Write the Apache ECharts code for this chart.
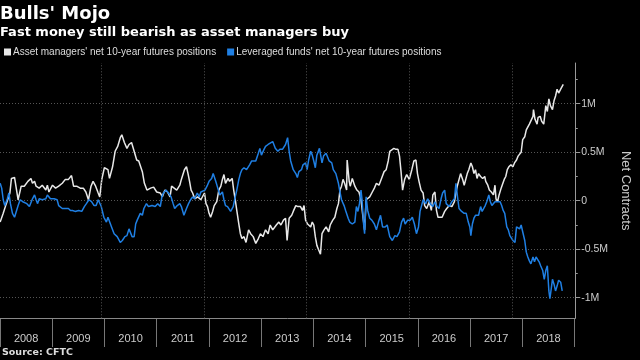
<!DOCTYPE html>
<html><head><meta charset="utf-8">
<script src="https://cdn.jsdelivr.net/npm/echarts@6/dist/echarts.min.js"></script>
<style>html,body{margin:0;padding:0;background:#000}#c{width:640px;height:360px}</style>
</head><body><div id="c"></div>
<script>
const years = ['2008','2009','2010','2011','2012','2013','2014','2015','2016','2017','2018'];
const yTicks = [-1, -0.5, 0, 0.5, 1];
const yMinorTicks = [-1, -0.75, -0.5, -0.25, 0, 0.25, 0.5, 0.75, 1, 1.25];
const gridYears = [2010, 2012, 2014, 2016, 2018];
const seriesNames = ["Asset managers' net 10-year futures positions", "Leveraged funds' net 10-year futures positions"];

// Asset managers (decimal year, million contracts)
const assetT = [2008.03,2008.09,2008.15,2008.22,2008.25,2008.28,2008.31,2008.38,2008.41,2008.44,2008.50,2008.57,2008.63,2008.66,2008.70,2008.73,2008.79,2008.82,2008.85,2008.92,2008.95,2008.98,
2009.05,2009.11,2009.17,2009.24,2009.30,2009.36,2009.42,2009.46,2009.52,2009.59,2009.65,2009.70,2009.75,2009.80,2009.84,2009.89,2009.94,2009.97,
2010.01,2010.06,2010.13,2010.16,2010.22,2010.27,2010.32,2010.37,2010.40,2010.45,2010.50,2010.54,2010.59,2010.64,2010.69,2010.73,2010.76,2010.80,2010.84,2010.89,2010.96,
2011.02,2011.08,2011.15,2011.19,2011.24,2011.29,2011.34,2011.37,2011.40,2011.47,2011.53,2011.56,2011.59,2011.62,2011.66,2011.69,2011.72,2011.75,2011.78,2011.82,2011.85,2011.88,2011.94,2011.97,
2012.01,2012.04,2012.07,2012.10,2012.13,2012.17,2012.20,2012.25,2012.29,2012.33,2012.36,2012.39,2012.42,2012.47,2012.50,2012.55,2012.58,2012.61,2012.64,2012.68,2012.71,2012.74,2012.78,2012.82,2012.87,2012.91,2012.96,
2013.01,2013.06,2013.10,2013.15,2013.20,2013.25,2013.29,2013.34,2013.41,2013.46,2013.50,2013.55,2013.59,2013.62,2013.66,2013.71,2013.74,2013.79,2013.83,2013.88,2013.92,2013.95,2013.98,
2014.02,2014.08,2014.11,2014.14,2014.17,2014.20,2014.23,2014.27,2014.30,2014.34,2014.38,2014.43,2014.46,2014.51,2014.55,2014.59,2014.62,2014.65,2014.68,2014.71,2014.74,2014.78,2014.79,2014.83,2014.85,2014.89,2014.94,2014.98,
2015.02,2015.06,2015.09,2015.13,2015.16,2015.19,2015.23,2015.27,2015.32,2015.36,2015.41,2015.46,2015.51,2015.55,2015.59,2015.62,2015.65,2015.70,2015.74,2015.78,2015.81,2015.84,2015.87,2015.91,2015.95,
2016.00,2016.05,2016.09,2016.13,2016.16,2016.19,2016.23,2016.27,2016.30,2016.34,2016.39,2016.43,2016.46,2016.50,2016.53,2016.56,2016.59,2016.64,2016.69,2016.73,2016.78,2016.83,2016.88,2016.91,2016.94,2016.97,
2017.00,2017.04,2017.07,2017.10,2017.13,2017.16,2017.20,2017.23,2017.26,2017.29,2017.32,2017.35,2017.39,2017.43,2017.47,2017.49,2017.53,2017.56,2017.60,2017.64,2017.67,2017.69,2017.72,2017.75,2017.79,2017.81,2017.85,2017.88,2017.91,2017.94,2017.98,
2018.02,2018.05,2018.09,2018.12,2018.15,2018.18,2018.21,2018.25,2018.28,2018.31,2018.34,2018.37,2018.41,2018.42,2018.45,2018.49,2018.51,2018.55,2018.58,2018.62,2018.66,2018.69,2018.72,2018.75,2018.79,2018.82,2018.85,2018.88,2018.91,2018.95,2019.00];
const assetV = [-0.22,-0.13,-0.03,0.08,0.23,0.25,0.24,0.01,0.02,0.15,0.15,0.20,0.23,0.18,0.20,0.15,0.13,0.11,0.16,0.11,0.16,0.09,
0.16,0.13,0.15,0.18,0.22,0.22,0.26,0.15,0.15,0.13,0.13,0.09,0.01,0.15,0.20,0.15,0.08,0.04,
0.22,0.34,0.32,0.23,0.35,0.51,0.56,0.65,0.68,0.60,0.54,0.58,0.60,0.51,0.42,0.41,0.42,0.30,0.18,0.11,0.13,
0.14,0.09,0.08,0.04,0.11,0.09,0.04,0.15,0.13,0.11,0.16,0.22,0.23,0.32,0.35,0.28,0.20,0.11,0.08,0.02,0.01,0.04,0.01,-0.01,
0.08,-0.03,-0.06,-0.13,-0.17,-0.11,-0.05,-0.01,0.11,0.15,0.22,0.27,0.18,0.23,0.20,0.23,0.11,0.01,-0.10,-0.24,-0.34,-0.39,-0.37,-0.43,-0.30,-0.34,-0.37,
-0.44,-0.39,-0.34,-0.37,-0.30,-0.34,-0.25,-0.30,-0.25,-0.22,-0.25,-0.20,-0.18,-0.41,-0.18,-0.15,-0.11,-0.05,-0.06,-0.06,-0.10,-0.05,-0.20,
-0.24,-0.27,-0.22,-0.25,-0.37,-0.46,-0.50,-0.55,-0.34,-0.30,-0.27,-0.32,-0.25,-0.20,-0.17,-0.08,-0.03,0.11,0.15,0.22,0.18,0.11,0.42,0.20,0.15,0.23,0.15,0.11,
0.09,0.01,-0.13,-0.30,0.01,0.01,0.04,0.08,0.13,0.18,0.16,0.23,0.30,0.32,0.41,0.51,0.49,0.54,0.53,0.53,0.46,0.30,0.11,0.22,0.27,
0.22,0.32,0.41,0.42,0.28,0.20,0.11,0.08,-0.05,-0.08,-0.01,-0.10,0.06,0.09,-0.10,-0.17,-0.18,-0.17,-0.11,-0.08,-0.05,-0.06,-0.01,0.08,0.16,0.18,
0.28,0.22,0.16,0.18,0.28,0.32,0.39,0.35,0.28,0.32,0.23,0.28,0.25,0.23,0.25,0.20,0.16,0.11,0.09,0.06,0.16,0.02,-0.01,0.06,0.13,0.16,0.22,0.25,0.32,0.35,0.37,
0.35,0.39,0.42,0.46,0.47,0.50,0.63,0.66,0.73,0.75,0.79,0.80,0.87,0.94,0.84,0.79,0.86,0.87,0.82,0.79,0.98,0.92,1.05,0.98,0.94,1.03,1.08,1.15,1.11,1.15,1.20];

// Leveraged funds (decimal year, million contracts)
const levT = [2008.03,2008.06,2008.09,2008.12,2008.17,2008.20,2008.23,2008.27,2008.31,2008.34,2008.38,2008.42,2008.47,2008.50,2008.55,2008.60,2008.63,2008.66,2008.70,2008.73,2008.76,2008.79,2008.85,2008.92,2008.95,
2009.01,2009.08,2009.14,2009.17,2009.24,2009.30,2009.36,2009.40,2009.44,2009.49,2009.56,2009.62,2009.67,2009.71,2009.76,2009.81,2009.86,2009.90,2009.94,2009.97,
2010.00,2010.05,2010.10,2010.13,2010.16,2010.20,2010.25,2010.31,2010.37,2010.41,2010.46,2010.50,2010.54,2010.57,2010.60,2010.64,2010.67,2010.70,2010.73,2010.76,2010.80,2010.83,2010.88,2010.92,2010.99,
2011.05,2011.10,2011.15,2011.18,2011.21,2011.26,2011.31,2011.36,2011.40,2011.43,2011.48,2011.53,2011.56,2011.61,2011.66,2011.70,2011.74,2011.78,2011.82,2011.87,2011.91,2011.94,2011.97,
2012.02,2012.06,2012.10,2012.15,2012.18,2012.23,2012.27,2012.31,2012.36,2012.39,2012.42,2012.46,2012.52,2012.57,2012.61,2012.64,2012.68,2012.71,2012.74,2012.78,2012.83,2012.89,2012.93,2012.96,
2013.01,2013.06,2013.09,2013.12,2013.17,2013.20,2013.25,2013.28,2013.34,2013.39,2013.44,2013.48,2013.53,2013.59,2013.63,2013.66,2013.69,2013.74,2013.79,2013.82,2013.85,2013.90,2013.93,2013.98,
2014.01,2014.04,2014.08,2014.11,2014.14,2014.17,2014.20,2014.25,2014.30,2014.33,2014.38,2014.41,2014.44,2014.49,2014.52,2014.57,2014.62,2014.65,2014.68,2014.73,2014.76,2014.81,2014.84,2014.89,2014.94,2014.97,
2015.00,2015.03,2015.06,2015.08,2015.11,2015.13,2015.16,2015.19,2015.23,2015.27,2015.32,2015.36,2015.40,2015.44,2015.48,2015.53,2015.57,2015.62,2015.67,2015.72,2015.76,2015.81,2015.85,2015.89,2015.92,2015.97,
2016.02,2016.06,2016.10,2016.14,2016.18,2016.21,2016.24,2016.27,2016.32,2016.36,2016.41,2016.46,2016.50,2016.54,2016.58,2016.62,2016.65,2016.69,2016.72,2016.75,2016.78,2016.83,2016.88,2016.91,2016.94,2016.97,
2017.02,2017.07,2017.11,2017.15,2017.18,2017.20,2017.23,2017.26,2017.29,2017.32,2017.35,2017.39,2017.42,2017.45,2017.48,2017.51,2017.55,2017.58,2017.61,2017.64,2017.67,2017.72,2017.77,2017.80,2017.83,2017.86,2017.90,2017.93,2017.96,2017.99,
2018.02,2018.06,2018.09,2018.12,2018.15,2018.18,2018.21,2018.25,2018.28,2018.31,2018.34,2018.37,2018.41,2018.44,2018.47,2018.50,2018.53,2018.56,2018.60,2018.63,2018.66,2018.69,2018.72,2018.74,2018.77,2018.79,2018.82,2018.85,2018.88,2018.91,2018.95,2018.98];
const levV = [0.18,0.13,0.01,-0.05,0.02,0.08,-0.03,-0.13,-0.17,-0.15,-0.05,0.01,-0.01,0.01,-0.03,-0.06,-0.08,0.02,0.06,0.01,-0.03,0.02,0.01,0.02,0.06,
0.02,0.02,0.01,-0.05,-0.08,-0.08,-0.08,-0.10,-0.10,-0.11,-0.10,-0.11,-0.06,-0.03,0.01,-0.01,-0.05,-0.05,0.01,-0.01,
-0.06,-0.17,-0.22,-0.17,-0.15,-0.27,-0.34,-0.37,-0.43,-0.41,-0.37,-0.36,-0.29,-0.27,-0.37,-0.37,-0.24,-0.20,-0.18,-0.13,-0.15,-0.08,-0.03,-0.06,-0.05,
-0.06,-0.03,-0.06,0.04,0.08,0.11,0.08,0.04,-0.03,-0.08,-0.05,-0.03,-0.06,-0.15,-0.08,-0.03,0.01,0.04,0.02,0.08,0.04,0.09,0.11,
0.11,0.15,0.20,0.23,0.28,0.20,0.13,0.06,0.09,0.01,-0.05,-0.06,-0.11,-0.06,0.04,0.11,0.22,0.28,0.32,0.34,0.32,0.37,0.41,0.42,
0.41,0.49,0.54,0.47,0.53,0.56,0.58,0.58,0.61,0.54,0.51,0.53,0.53,0.58,0.65,0.51,0.41,0.32,0.28,0.24,0.30,0.32,0.37,0.39,
0.32,0.42,0.51,0.47,0.41,0.34,0.47,0.54,0.39,0.46,0.49,0.49,0.41,0.39,0.32,0.28,0.18,0.09,0.01,-0.05,-0.10,-0.18,-0.22,-0.24,-0.22,-0.06,
-0.11,-0.03,0.11,0.01,-0.24,-0.34,0.04,-0.10,-0.18,-0.20,-0.24,-0.30,-0.22,-0.15,-0.27,-0.27,-0.25,-0.37,-0.41,-0.36,-0.37,-0.32,-0.22,-0.18,-0.24,-0.20,
-0.20,-0.17,-0.24,-0.34,-0.27,-0.11,-0.05,0.01,-0.03,0.02,-0.03,-0.06,-0.01,-0.06,-0.08,0.02,0.08,0.11,-0.03,-0.05,-0.06,-0.01,0.02,0.18,0.04,-0.08,
-0.11,-0.13,-0.13,-0.22,-0.27,-0.36,-0.24,-0.18,-0.15,-0.13,-0.15,-0.06,-0.11,-0.08,-0.05,-0.01,0.06,-0.01,-0.05,-0.03,-0.01,-0.01,-0.01,-0.05,-0.10,-0.13,-0.27,-0.30,-0.36,-0.37,
-0.41,-0.43,-0.27,-0.25,-0.29,-0.25,-0.32,-0.41,-0.53,-0.58,-0.62,-0.65,-0.58,-0.63,-0.58,-0.60,-0.63,-0.67,-0.72,-0.81,-0.72,-0.67,-0.93,-1.01,-0.89,-0.81,-0.86,-0.93,-0.88,-0.82,-0.84,-0.93];

const zip = (t, v) => t.map((x, i) => [x, v[i]]);
const axisFont = 'Liberation Sans';
const chart = echarts.init(document.getElementById('c'), null, {renderer: 'canvas'});
chart.setOption({
  backgroundColor: '#000',
  animation: false,
  title: [
    {text: "Bulls' Mojo", left: 0, top: 5, padding: 0,
     textStyle: {color: '#fff', fontSize: 18, fontWeight: 'bold', fontFamily: 'DejaVu Sans'}},
    {text: 'Fast money still bearish as asset managers buy', left: 0, top: 26.5, padding: 0,
     textStyle: {color: '#fff', fontSize: 13, fontWeight: 'bold', fontFamily: 'DejaVu Sans'}},
    {text: 'Source: CFTC', left: 2, top: 348, padding: 0,
     textStyle: {color: '#ddd', fontSize: 9.5, fontWeight: 'bold', fontFamily: 'DejaVu Sans'}}
  ],
  legend: {
    left: 4, top: 47, padding: 0, itemWidth: 7, itemHeight: 7, itemGap: 11, icon: 'rect',
    textStyle: {color: '#ddd', fontSize: 10, fontFamily: axisFont, padding: [0, 0, 0, -3]},
    data: seriesNames
  },
  grid: [
    {left: 0, right: 53.3, top: 63, bottom: 41.7},
    {left: -2, right: 65.5, top: 318, height: 1}
  ],
  xAxis: [
    {type: 'value', gridIndex: 0, min: 2008.027, max: 2019.234,
     axisLine: {show: true, onZero: false, lineStyle: {color: '#888', width: 1}},
     axisTick: {show: false}, axisLabel: {show: false}, splitLine: {show: false}},
    {type: 'category', gridIndex: 1, data: years, position: 'bottom', boundaryGap: true,
     axisLine: {show: false},
     axisTick: {show: true, interval: 0, length: 28, lineStyle: {color: '#777'}},
     axisLabel: {interval: 0, margin: 14, color: '#ccc', fontSize: 11, fontFamily: axisFont},
     splitLine: {show: false}}
  ],
  yAxis: [
    {type: 'value', gridIndex: 0, position: 'right', min: -1.212, max: 1.42,
     name: 'Net Contracts', nameLocation: 'middle', nameRotate: -90, nameGap: 39,
     nameTextStyle: {color: '#ccc', fontSize: 13, fontFamily: axisFont},
     axisLine: {show: true, lineStyle: {color: '#999'}},
     axisTick: {show: true, length: 5, customValues: yTicks, lineStyle: {color: '#999'}},
     axisLabel: {color: '#ccc', fontSize: 10.5, fontFamily: axisFont, margin: 6, customValues: yTicks,
       formatter: v => v === 0 ? '0' : v + 'M'},
     splitLine: {show: true, lineStyle: {color: '#555', type: [1, 2], width: 1}}},
    {type: 'value', gridIndex: 0, position: 'right', min: -1.212, max: 1.42,
     axisLine: {show: false},
     axisTick: {show: true, length: 2.5, customValues: yMinorTicks, lineStyle: {color: '#999'}},
     axisLabel: {show: false}, splitLine: {show: false}},
    {type: 'value', gridIndex: 1, show: false}
  ],
  series: [
    {name: seriesNames[0], type: 'line', xAxisIndex: 0, yAxisIndex: 0, showSymbol: false,
     color: '#e8e8e8', lineStyle: {width: 1.5, color: '#e8e8e8'}, data: zip(assetT, assetV),
     markLine: {silent: true, symbol: 'none', label: {show: false},
       lineStyle: {color: '#555', type: [1, 2], width: 1},
       data: gridYears.map(y => ({xAxis: y}))}},
    {name: seriesNames[1], type: 'line', xAxisIndex: 0, yAxisIndex: 0, showSymbol: false,
     color: '#1f7fe3', lineStyle: {width: 1.5, color: '#1f7fe3'}, data: zip(levT, levV)}
  ]
});
</script>
</body></html>
